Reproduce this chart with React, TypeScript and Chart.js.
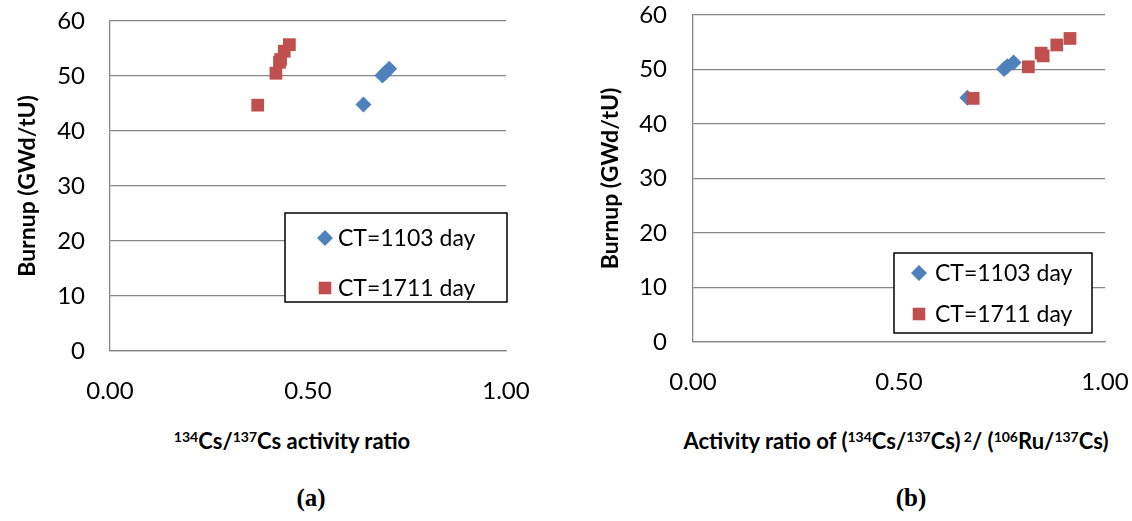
import React, { useEffect, useRef } from 'react';
import { Chart, registerables } from 'chart.js';

Chart.register(...registerables);

// ---- data ----
const seriesLabels = ['CT=1103 day', 'CT=1711 day'];
const burnup1103 = [44.8, 50.1, 50.6, 51.3];
const ratioCs1103 = [0.64, 0.688, 0.695, 0.705];
const ratioCsRu1103 = [0.666, 0.755, 0.763, 0.778];
const burnup1711 = [44.7, 50.5, 52.5, 53.0, 54.5, 55.7];
const ratioCs1711 = [0.373, 0.419, 0.428, 0.431, 0.44, 0.453];
const ratioCsRu1711 = [0.68, 0.814, 0.85, 0.845, 0.883, 0.915];
const xTickValues = [0, 0.5, 1];
const yTickValues = [0, 10, 20, 30, 40, 50, 60];
const yTitle = 'Burnup (GWd/tU)';

const BLUE = '#4F81BD';
const RED = '#C0504D';
const GRID = '#868686';
const FONT = 'Lato, "Open Sans", sans-serif';

type Geo = {
  W: number; H: number; left: number; right: number; top: number; bottom: number;
  yPad: number; titlePad: number;
  box: [number, number, number, number]; rows: number[]; markX: number; textX: number;
};

const boxLegend = {
  id: 'boxLegend',
  afterDraw(chart: any, _args: any, opts: any) {
    const { ctx } = chart;
    const [x1, y1, x2, y2] = opts.box;
    ctx.save();
    ctx.fillStyle = '#fff';
    ctx.fillRect(x1, y1, x2 - x1, y2 - y1);
    ctx.strokeStyle = '#000';
    ctx.lineWidth = 1.5;
    ctx.strokeRect(x1, y1, x2 - x1, y2 - y1);
    chart.data.datasets.forEach((ds: any, i: number) => {
      const y = opts.rows[i];
      const x = opts.markX;
      ctx.fillStyle = ds.backgroundColor;
      ctx.beginPath();
      if (ds.pointStyle === 'rectRot') {
        const r = 8;
        ctx.moveTo(x, y - r);
        ctx.lineTo(x + r, y);
        ctx.lineTo(x, y + r);
        ctx.lineTo(x - r, y);
        ctx.closePath();
      } else {
        const s = 6.3;
        ctx.rect(x - s, y - s, 2 * s, 2 * s);
      }
      ctx.fill();
      ctx.fillStyle = '#000';
      ctx.font = `23px ${FONT}`;
      ctx.textBaseline = 'middle';
      ctx.textAlign = 'left';
      ctx.fillText(ds.label, opts.textX, y + 1);
    });
    ctx.restore();
  },
};

function pts(xs: number[], ys: number[]) {
  return xs.map((x, i) => ({ x, y: ys[i] }));
}

function makeConfig(x1103: number[], x1711: number[], g: Geo): any {
  return {
    type: 'scatter',
    data: {
      datasets: [
        {
          label: seriesLabels[0],
          data: pts(x1103, burnup1103),
          pointStyle: 'rectRot',
          pointRadius: 8,
          backgroundColor: BLUE,
          borderColor: BLUE,
          borderWidth: 0,
          order: 1,
        },
        {
          label: seriesLabels[1],
          data: pts(x1711, burnup1711),
          pointStyle: 'rect',
          pointRadius: 9,
          backgroundColor: RED,
          borderColor: RED,
          borderWidth: 0,
          order: 0,
        },
      ],
    },
    options: {
      animation: false,
      responsive: false,
      maintainAspectRatio: false,
      events: [],
      layout: { padding: { left: 0, top: g.top, right: g.W - g.right, bottom: 0 } },
      plugins: {
        legend: { display: false },
        tooltip: { enabled: false },
        boxLegend: { box: g.box, rows: g.rows, markX: g.markX, textX: g.textX },
      },
      scales: {
        x: {
          type: 'linear',
          min: 0,
          max: 1,
          afterFit: (s: any) => {
            s.height = g.H - g.bottom;
            s.paddingLeft = 0;
            s.paddingRight = 0;
          },
          afterBuildTicks: (s: any) => { s.ticks = xTickValues.map((v) => ({ value: v })); },
          ticks: {
            padding: 18,
            color: '#000',
            font: { family: FONT, size: 24 },
            callback: (v: any) => Number(v).toFixed(2),
            maxRotation: 0,
          },
          grid: { display: false },
          border: { display: true, color: GRID, width: 1.3 },
        },
        y: {
          type: 'linear',
          min: 0,
          max: 60,
          afterFit: (s: any) => {
            s.width = g.left;
            s.paddingTop = 0;
            s.paddingBottom = 0;
          },
          afterBuildTicks: (s: any) => { s.ticks = yTickValues.map((v) => ({ value: v })); },
          ticks: {
            padding: g.yPad,
            color: '#000',
            font: { family: FONT, size: 24 },
          },
          grid: { color: GRID, lineWidth: 1.3, drawTicks: false },
          border: { display: true, color: GRID, width: 1.3 },
          title: {
            display: true,
            text: yTitle,
            color: '#000',
            font: { family: FONT, size: 23, weight: 'bold' },
            padding: { top: g.titlePad, bottom: 0 },
          },
        },
      },
    },
    plugins: [boxLegend],
  };
}

const geoA: Geo = {
  W: 560, H: 420, left: 110, right: 506, top: 21, bottom: 351, yPad: 25, titlePad: 14,
  box: [285, 213, 507, 302], rows: [238, 288], markX: 325, textX: 338,
};
const geoB: Geo = {
  W: 566, H: 420, left: 127, right: 539, top: 15, bottom: 342, yPad: 26, titlePad: 31,
  box: [328, 253, 526, 333], rows: [273, 314], markX: 353, textX: 369,
};

function ChartCanvas({ cfg, left, g }: { cfg: any; left: number; g: Geo }) {
  const ref = useRef<HTMLCanvasElement | null>(null);
  useEffect(() => {
    if (!ref.current) return;
    const c = new Chart(ref.current, cfg);
    return () => c.destroy();
  }, []);
  return (
    <canvas
      ref={ref}
      width={g.W}
      height={g.H}
      style={{ position: 'absolute', left, top: 0, width: g.W, height: g.H }}
    />
  );
}

const titleStyle: React.CSSProperties = {
  position: 'absolute',
  top: 427,
  transform: 'translateX(-50%)',
  whiteSpace: 'nowrap',
  fontFamily: FONT,
  fontWeight: 'bold',
  fontSize: 22,
  color: '#000',
  lineHeight: '28px',
};
const supStyle: React.CSSProperties = { fontSize: 14, verticalAlign: 'top', lineHeight: '20px' };
const capStyle: React.CSSProperties = {
  position: 'absolute',
  top: 484,
  transform: 'translateX(-50%)',
  fontFamily: '"Liberation Serif", "Times New Roman", serif',
  fontWeight: 'bold',
  fontSize: 25,
  color: '#000',
};

export default function App() {
  const cfgA = makeConfig(ratioCs1103, ratioCs1711, geoA);
  const cfgB = makeConfig(ratioCsRu1103, ratioCsRu1711, geoB);
  return (
    <div style={{ position: 'fixed', left: 0, top: 0, width: 1132, height: 521, background: '#fff', overflow: 'hidden' }}>
      <ChartCanvas cfg={cfgA} left={0} g={geoA} />
      <ChartCanvas cfg={cfgB} left={566} g={geoB} />
      <div style={{ ...titleStyle, left: 292 }}>
        <span style={supStyle}>134</span>Cs/<span style={supStyle}>137</span>Cs activity ratio
      </div>
      <div style={{ ...titleStyle, left: 896 }}>
        Activity ratio of (<span style={supStyle}>134</span>Cs/<span style={supStyle}>137</span>Cs)
        <span style={supStyle}> 2</span>/ (<span style={supStyle}>106</span>Ru/<span style={supStyle}>137</span>Cs)
      </div>
      <div style={{ ...capStyle, left: 311 }}>(a)</div>
      <div style={{ ...capStyle, left: 911 }}>(b)</div>
    </div>
  );
}
